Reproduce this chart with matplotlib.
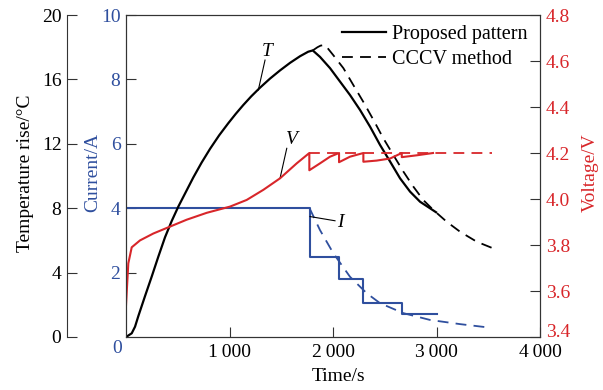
import numpy as np
import matplotlib.pyplot as plt
from matplotlib.lines import Line2D

plt.rcParams['font.family'] = ['Liberation Serif', 'DejaVu Serif']
plt.rcParams['font.size'] = 14

blue = '#2f4f9e'
red = '#d8262a'

# Temperature rise, proposed pattern (s, degC)
t_T = [0, 55, 87, 119, 184, 248, 312, 377, 441, 506, 570, 650, 730, 812, 900, 988,
       1060, 1133, 1210, 1295, 1391, 1488, 1585, 1681, 1760, 1804,
       1874, 1971, 2068, 2164, 2261, 2358, 2454, 2551, 2647, 2744, 2841, 2995]
T_prop = [0, 0.23, 0.64, 1.3, 2.55, 3.75, 4.99, 6.2, 7.2, 8.11, 8.91, 9.91, 10.83, 11.69, 12.53, 13.28,
          13.86, 14.41, 14.95, 15.49, 16.05, 16.56, 17.03, 17.44, 17.72, 17.8,
          17.4, 16.7, 15.86, 15.03, 14.1, 13.06, 11.93, 10.9, 9.86, 9.03, 8.4, 7.75]
# Temperature rise, CCCV
t_Tc = [1804, 1850, 1880, 1923, 2003, 2100, 2196, 2293, 2389, 2486, 2583, 2680, 2776,
        2873, 2969, 3098, 3227, 3388, 3549]
T_cccv = [17.8, 18.0, 18.1, 18.14, 17.5, 16.7, 15.65, 14.6, 13.5, 12.34, 11.3, 10.27, 9.34,
          8.5, 7.89, 7.16, 6.54, 5.92, 5.5]

# Voltage, proposed pattern (V)
t_V = [0, 22, 55, 135, 264, 425, 586, 780, 1005, 1166, 1327, 1488, 1649, 1771,
       1771, 1874, 1971, 2058, 2058, 2164, 2293, 2293, 2421, 2551, 2664, 2664, 2809, 2966]
V_prop = [3.54, 3.72, 3.79, 3.82, 3.85, 3.88, 3.91, 3.94, 3.967, 3.996, 4.04, 4.09, 4.155, 4.2,
          4.125, 4.155, 4.184, 4.2, 4.16, 4.184, 4.2, 4.162, 4.167, 4.176, 4.2, 4.182, 4.19, 4.2]
# Voltage, CCCV
t_Vc = [1771, 3536]
V_cccv = [4.2, 4.2]

# Current, proposed pattern (step changes)
t_I = [0, 1773, 2060, 2293, 2670, 3000]
I_prop = [4, 2.5, 1.8, 1.05, 0.7, 0.7]
# Current, CCCV
t_Ic = [1773, 1874, 2003, 2164, 2325, 2454, 2680, 2937, 3227, 3517]
I_cccv = [4.0, 3.32, 2.6, 1.87, 1.36, 1.05, 0.74, 0.53, 0.40, 0.29]

fig = plt.figure(figsize=(6.03, 3.90), dpi=100)
ax = fig.add_axes([0.209, 0.1359, 0.6866, 0.8256])
axT = ax.twinx()
axV = ax.twinx()

# current axis (inner left)
ax.step(t_I, I_prop, where='post', color=blue, lw=1.5)
ax.plot(t_Ic, I_cccv, color=blue, lw=1.3, ls=(0, (6, 4)))
ax.set_xlim(0, 4000)
ax.set_ylim(0, 10)
ax.set_xticks([1000, 2000, 3000, 4000])
ax.set_xticklabels(['1\u2009000', '2\u2009000', '3\u2009000', '4\u2009000'])
ax.set_yticks([2, 4, 6, 8, 10])
ax.tick_params(axis='y', colors='#333333', labelcolor=blue, direction='in', length=7, pad=4)
ax.tick_params(axis='x', direction='in', length=7, pad=5, colors='#333333', labelcolor='black')
ax.set_ylabel('Current/A', color=blue)
ax.yaxis.set_label_coords(-0.06, 0.51)
ax.set_xlabel('Time/s')
ax.xaxis.set_label_coords(0.512, -0.095)
ax.text(-0.022, -0.035, '0', color=blue, transform=ax.transAxes, ha='center', va='center')

# temperature axis (outer left)
axT.plot(t_T, T_prop, color='black', lw=1.6)
axT.plot(t_Tc, T_cccv, color='black', lw=1.3, ls=(0, (6, 4)))
axT.set_ylim(0, 20)
axT.set_yticks([0, 4, 8, 12, 16, 20])
axT.yaxis.tick_left()
axT.yaxis.set_label_position('left')
axT.spines['left'].set_position(('outward', 59 * 0.72))
axT.spines['left'].set_visible(True)
axT.spines['left'].set_color('#333333')
for s in ['right', 'top', 'bottom']:
    axT.spines[s].set_visible(False)
axT.tick_params(axis='y', direction='in', length=7, pad=4, colors='#333333', labelcolor='black')
axT.set_ylabel('Temperature rise/\u00b0C')
axT.yaxis.set_label_coords(-0.222, 0.51)

# voltage axis (right)
axV.plot(t_V, V_prop, color=red, lw=1.5)
axV.plot(t_Vc, V_cccv, color=red, lw=1.3, ls=(0, (6, 4)))
axV.set_ylim(3.4, 4.8)
axV.set_yticks([3.4, 3.6, 3.8, 4.0, 4.2, 4.4, 4.6, 4.8])
axV.set_yticklabels(['3.4', '3.6', '3.8', '4.0', '4.2', '4.4', '4.6', '4.8'])
axV.get_yticklabels()[0].set_va('baseline')
axV.tick_params(axis='y', direction='in', length=7, pad=4, colors='#333333', labelcolor=red)
axV.set_ylabel('Voltage/V', color=red, rotation=90)
axV.yaxis.set_label_coords(1.1, 0.51)
for s in ax.spines.values():
    s.set_color('#333333')
for s in axV.spines.values():
    s.set_color('#333333')

# curve labels with leader lines (current-axis data coords)
ax.plot([1343, 1278], [8.6, 7.67], color='black', lw=0.8)
ax.text(1359, 8.86, 'T', style='italic', ha='center', va='center')
ax.plot([1553, 1488], [5.86, 4.93], color='black', lw=0.8)
ax.text(1601, 6.12, 'V', style='italic', ha='center', va='center')
ax.plot([1778, 2019], [3.74, 3.61], color='black', lw=0.8)
ax.text(2068, 3.57, 'I', style='italic', ha='center', va='center')

handles = [Line2D([], [], color='black', lw=1.6),
           Line2D([], [], color='black', lw=1.3, ls=(0, (6, 4)))]
axV.legend(handles, ['Proposed pattern', 'CCCV method'], loc='upper right',
           bbox_to_anchor=(0.994, 1.0), frameon=False, handlelength=2.2,
           handletextpad=0.3, labelspacing=0.3, borderpad=0, fontsize=14.5)

fig.savefig('out.png', dpi=100)
